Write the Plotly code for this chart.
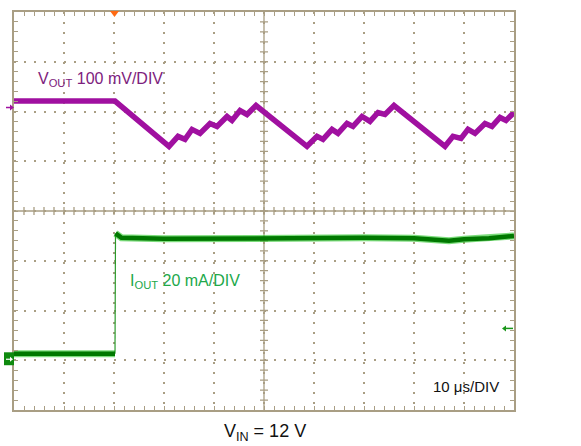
import plotly.graph_objects as go

# ---------------------------------------------------------------
# Scope capture: 10 us/DIV horizontally, 8 divisions vertically
# trace values are read off the screen in divisions (centre = 0)
# ---------------------------------------------------------------

# VOUT, 100 mV/DIV
vout_t_us = [0, 20.2, 31.0, 32.8, 34.2, 35.6, 37.2, 39.2, 40.6, 42.6, 43.6, 45.2, 46.6, 48.4,
             58.6, 60.6, 61.8, 63.6, 64.8, 66.6, 67.8, 69.6, 71.2, 72.8, 74.2, 76.0,
             86.2, 87.8, 89.4, 90.8, 92.2, 94.2, 95.6, 97.2, 98.4, 100]
vout_div = [2.21, 2.21, 1.30, 1.50, 1.44, 1.64, 1.56, 1.76, 1.70, 1.90, 1.82, 2.02, 1.94, 2.12,
            1.30, 1.50, 1.44, 1.64, 1.56, 1.76, 1.70, 1.90, 1.80, 1.98, 1.94, 2.12,
            1.30, 1.50, 1.46, 1.64, 1.56, 1.76, 1.70, 1.88, 1.82, 1.98]

# IOUT, 20 mA/DIV (load step at the trigger point)
iout_low_t_us = [0, 20.2]
iout_low_div = [-2.87, -2.87]
iout_high_t_us = [20.3, 21.5, 30, 40, 50, 60, 70, 80, 84, 87, 90, 95, 100]
iout_high_div = [-0.45, -0.54, -0.56, -0.55, -0.54, -0.55, -0.54, -0.55, -0.58, -0.60, -0.57, -0.55, -0.50]

GRID = "#a99e84"
PURPLE = "#a010a0"
GREEN_DARK = "#007800"
GREEN_LIGHT = "#12c012"
FONT = "Liberation Sans, Arial, sans-serif"

# plot area in pixels (used only for the small channel markers outside the grid)
L, T, W, H = 14, 10, 500, 400


def px(x, y):
    """pixel -> paper coords"""
    return (x - L) / W, (T + H - y) / H


fig = go.Figure()

# IOUT trace: thin edge, then fuzzy thick levels
fig.add_trace(go.Scatter(x=[iout_low_t_us[-1], iout_high_t_us[0]],
                         y=[iout_low_div[-1], iout_high_div[0]],
                         mode="lines", line=dict(color="#2a9a2a", width=1.2)))
for tx, ty in [(iout_low_t_us, iout_low_div), (iout_high_t_us, iout_high_div)]:
    fig.add_trace(go.Scatter(x=tx, y=ty, mode="lines",
                             line=dict(color=GREEN_LIGHT, width=7), opacity=0.55))
    fig.add_trace(go.Scatter(x=tx, y=ty, mode="lines",
                             line=dict(color=GREEN_DARK, width=4.5)))

# VOUT trace
fig.add_trace(go.Scatter(x=vout_t_us, y=vout_div, mode="lines",
                         line=dict(color=PURPLE, width=5.5)))

# centre axes with ticks on both sides
vpath = "M50,-4L50,4" + "".join(f"M49.2,{-4 + 0.2 * k:.2f}L50.8,{-4 + 0.2 * k:.2f}" for k in range(1, 40))
hpath = "M0,0L100,0" + "".join(f"M{2 * k},-0.08L{2 * k},0.08" for k in range(1, 50))
for p in (vpath, hpath):
    fig.add_shape(type="path", path=p, xref="x", yref="y",
                  line=dict(color=GRID, width=1.3), layer="between")

# trigger marker (orange) at top
x0, y0 = px(110, 9)
x1, y1 = px(119, 9)
x2, y2 = px(114.5, 15)
fig.add_shape(type="path", xref="paper", yref="paper",
              path=f"M{x0},{y0}L{x1},{y1}L{x2},{y2}Z",
              fillcolor="#ff6a13", line=dict(width=0))

# channel 1 level marker (purple, left)
a, b = px(6, 106)
c, d = px(11, 106)
e, f = px(10, 103)
g, h = px(14, 106)
i_, j = px(10, 109)
fig.add_shape(type="path", xref="paper", yref="paper",
              path=f"M{a},{b}L{c},{d}", line=dict(color=PURPLE, width=1.5))
fig.add_shape(type="path", xref="paper", yref="paper",
              path=f"M{e},{f}L{g},{h}L{i_},{j}Z", fillcolor=PURPLE, line=dict(width=0))

# channel 2 level marker (green block, left)
r0x, r0y = px(4, 352)
r1x, r1y = px(14, 365)
fig.add_shape(type="rect", xref="paper", yref="paper", x0=r0x, y0=r0y, x1=r1x, y1=r1y,
              fillcolor="#0f8a0f", line=dict(width=0))
a, b = px(6, 359)
c, d = px(10, 359)
e, f = px(10, 356.5)
g, h = px(13, 359)
i_, j = px(10, 361.5)
fig.add_shape(type="path", xref="paper", yref="paper",
              path=f"M{a},{b}L{c},{d}", line=dict(color="white", width=1.2))
fig.add_shape(type="path", xref="paper", yref="paper",
              path=f"M{e},{f}L{g},{h}L{i_},{j}Z", fillcolor="white", line=dict(width=0))

# green arrow on the right border
a, b = px(506, 328)
c, d = px(513, 328)
e, f = px(506, 325)
g, h = px(502, 328)
i_, j = px(506, 331)
fig.add_shape(type="path", xref="paper", yref="paper",
              path=f"M{a},{b}L{c},{d}", line=dict(color="#1a961a", width=1.5))
fig.add_shape(type="path", xref="paper", yref="paper",
              path=f"M{e},{f}L{g},{h}L{i_},{j}Z", fillcolor="#1a961a", line=dict(width=0))

# labels
fig.add_annotation(x=4.4, y=2.64, xref="x", yref="y", xanchor="left", yanchor="middle",
                   text="V<sub>OUT</sub> 100 mV/DIV", showarrow=False,
                   font=dict(family=FONT, size=16, color="#7d217d"))
fig.add_annotation(x=22.8, y=-1.42, xref="x", yref="y", xanchor="left", yanchor="middle",
                   text="I<sub>OUT</sub> 20 mA/DIV", showarrow=False,
                   font=dict(family=FONT, size=16, color="#21a84a"))
fig.add_annotation(x=97.4, y=-3.52, xref="x", yref="y", xanchor="right", yanchor="middle",
                   text="10 μs/DIV", showarrow=False,
                   font=dict(family=FONT, size=15, color="#111111"))
vx, vy = px(265, 433)
fig.add_annotation(x=vx, y=vy, xref="paper", yref="paper", xanchor="center", yanchor="middle",
                   text="V<sub>IN</sub> = 12 V", showarrow=False,
                   font=dict(family=FONT, size=18, color="#111111"))

axis_common = dict(showline=True, linecolor=GRID, linewidth=1.5, mirror="allticks",
                   ticks="inside", ticklen=4, tickwidth=1, tickcolor=GRID,
                   showticklabels=False, showgrid=True, gridcolor=GRID, gridwidth=1.5,
                   griddash="1.5px,8.5px", zeroline=False, fixedrange=True)
fig.update_xaxes(range=[0, 100], dtick=10, tick0=0,
                 minor=dict(dtick=2, ticks="inside", ticklen=4, tickcolor=GRID, showgrid=False),
                 **axis_common)
fig.update_yaxes(range=[-4, 4], dtick=1, tick0=0,
                 minor=dict(dtick=0.2, ticks="inside", ticklen=4, tickcolor=GRID, showgrid=False),
                 **axis_common)

fig.update_layout(width=581, height=446, margin=dict(l=L, r=581 - L - W, t=T, b=446 - T - H),
                  paper_bgcolor="white", plot_bgcolor="white", showlegend=False,
                  font=dict(family=FONT))

# drop the browser's default body margin so the page lines up with the capture
fig.write_html("out.html", config={"displayModeBar": False},
               post_script="document.body.style.margin='0';")
